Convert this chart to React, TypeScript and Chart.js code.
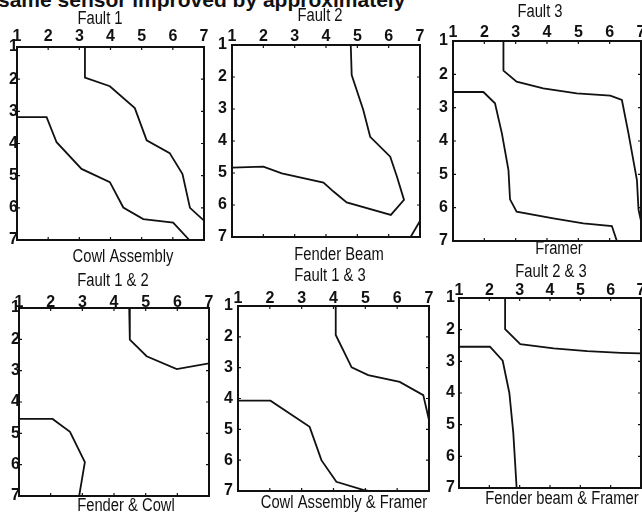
import React, { useEffect, useRef } from "react";
import { Chart, registerables } from "chart.js";
Chart.register(...registerables);

// ---------- data ----------
const axisTicks = [1, 2, 3, 4, 5, 6, 7];
const tickLabels = ["1", "2", "3", "4", "5", "6", "7"];

const headerText = "same sensor improved by approximately";

const panelTitles = ["Fault 1", "Fault 2", "Fault 3", "Fault 1 & 2", "Fault 1 & 3", "Fault 2 & 3"];
const panelLabels = ["Cowl Assembly", "Fender Beam", "Framer", "Fender & Cowl", "Cowl Assembly & Framer", "Fender beam & Framer"];

// contour lines as [x, y] pairs (x: top axis, y: left axis, downwards)
const fault1Upper = [[3.18, 1], [3.18, 1.95], [3.98, 2.22], [4.78, 2.9], [5.16, 3.9], [5.9, 4.3], [6.31, 4.95], [6.55, 6.0], [7, 6.4]];
const fault1Lower = [[1, 3.18], [1.95, 3.18], [2.27, 3.96], [3.07, 4.79], [3.98, 5.2], [4.41, 5.99], [5.05, 6.35], [6.01, 6.46], [6.53, 7]];

const fault2Main = [[4.79, 1], [4.82, 1.94], [5.19, 3.03], [5.41, 3.87], [6.05, 4.49], [6.26, 5.1], [6.49, 5.84], [6.07, 6.31], [4.66, 5.92], [4.24, 5.58], [3.92, 5.3], [2.59, 5.01], [2.0, 4.8], [1, 4.83]];
const fault2Corner = [[6.7, 7], [7, 6.5]];

const fault3Upper = [[2.61, 1], [2.61, 1.89], [3.03, 2.22], [3.88, 2.42], [4.95, 2.57], [6.02, 2.64], [6.39, 2.77], [6.6, 3.77], [6.87, 5.17], [6.92, 6.05], [7, 6.4]];
const fault3Lower = [[1, 2.53], [1.97, 2.53], [2.34, 2.87], [2.56, 3.77], [2.77, 4.87], [2.82, 5.75], [3.03, 6.12], [4.2, 6.32], [5.16, 6.47], [6.07, 6.55], [6.23, 7]];

const fault12Upper = [[4.48, 1], [4.5, 2.01], [5.03, 2.54], [5.98, 2.95], [7, 2.77]];
const fault12Lower = [[1, 4.54], [2.06, 4.54], [2.61, 4.95], [3.08, 5.92], [2.9, 7]];

const fault13Upper = [[4.07, 1], [4.07, 1.94], [4.57, 2.99], [5.09, 3.24], [6.08, 3.46], [6.82, 3.89], [7, 4.7]];
const fault13Lower = [[1, 4.07], [2.02, 4.07], [3.25, 4.92], [3.62, 6.0], [4.09, 6.7], [4.93, 6.96], [5.1, 7]];

const fault23Upper = [[2.52, 1], [2.52, 1.98], [3.02, 2.46], [4.12, 2.59], [5.23, 2.68], [6.34, 2.73], [7, 2.75]];
const fault23Lower = [[1, 2.54], [2.02, 2.54], [2.44, 2.98], [2.66, 4.0], [2.79, 5.26], [2.9, 7]];

// ---------- layout (positions only) ----------
const FONT = "'Liberation Sans', Arial, sans-serif";
const INK = "#111";
const NARROW = 0.82;

type Spec = {
  box: number[];
  title: string;
  label: string;
  titlePos: number[];
  labelPos: number[];
  xPad: number;
  yPad: number;
  lines: number[][][];
};

const specs: Spec[] = [
  { box: [17, 47, 204, 240], title: panelTitles[0], label: panelLabels[0], titlePos: [100, 19], labelPos: [123, 257], xPad: 2.5, yPad: -1, lines: [fault1Upper, fault1Lower] },
  { box: [232, 45, 420, 237], title: panelTitles[1], label: panelLabels[1], titlePos: [320, 16], labelPos: [339, 255], xPad: 0.5, yPad: 5, lines: [fault2Main, fault2Corner] },
  { box: [453, 41, 641, 241], title: panelTitles[2], label: panelLabels[2], titlePos: [540, 12], labelPos: [559, 249], xPad: 0, yPad: 5, lines: [fault3Upper, fault3Lower] },
  { box: [19, 308, 209, 496], title: panelTitles[3], label: panelLabels[3], titlePos: [113, 281], labelPos: [126, 506], xPad: -3, yPad: -1, lines: [fault12Upper, fault12Lower] },
  { box: [238, 306, 429, 491], title: panelTitles[4], label: panelLabels[4], titlePos: [330, 276], labelPos: [344, 503], xPad: -1, yPad: 5, lines: [fault13Upper, fault13Lower] },
  { box: [459, 298, 641, 488], title: panelTitles[5], label: panelLabels[5], titlePos: [551, 272], labelPos: [562, 499], xPad: -1, yPad: 4, lines: [fault23Upper, fault23Lower] },
];

const captionPlugin = {
  id: "captions",
  afterDraw(chart: any, _args: any, opts: any) {
    const ctx = chart.ctx;
    for (const it of opts.items || []) {
      ctx.save();
      ctx.fillStyle = INK;
      ctx.textAlign = "center";
      ctx.textBaseline = "middle";
      ctx.font = `18px ${FONT}`;
      ctx.translate(it.x, it.y);
      ctx.scale(NARROW, 1);
      ctx.fillText(it.text, 0, 0);
      ctx.restore();
    }
  },
};

const framePlugin = {
  id: "frame",
  afterDatasetsDraw(chart: any) {
    const { ctx, chartArea: a, scales } = chart;
    ctx.save();
    ctx.strokeStyle = INK;
    ctx.lineWidth = 2;
    ctx.strokeRect(a.left, a.top, a.right - a.left, a.bottom - a.top);
    ctx.lineWidth = 1.2;
    const tl = 3;
    ctx.beginPath();
    for (const v of axisTicks) {
      const px = scales.x.getPixelForValue(v);
      const py = scales.y.getPixelForValue(v);
      ctx.moveTo(px, a.top); ctx.lineTo(px, a.top + tl);
      ctx.moveTo(px, a.bottom); ctx.lineTo(px, a.bottom - tl);
      ctx.moveTo(a.left, py); ctx.lineTo(a.left + tl, py);
      ctx.moveTo(a.right, py); ctx.lineTo(a.right - tl, py);
    }
    ctx.stroke();
    ctx.restore();
  },
};

function Panel({ spec }: { spec: Spec }) {
  const ref = useRef<HTMLCanvasElement>(null);
  const [L, T, R, B] = spec.box;
  const YW = 24, XH = 22, PR = 10;
  const top = Math.min(spec.titlePos[1] - 14, T - XH - 2);
  const bottom = Math.max(spec.labelPos[1] + 14, B + 14);
  const left = L - YW;
  const width = R - L + YW + PR;
  const height = bottom - top;
  const padTop = T - XH - top;
  const padBottom = bottom - B;

  useEffect(() => {
    if (!ref.current) return;
    const tickFont = { family: FONT, size: 16, weight: "bold" as const, lineHeight: 1 };
    const chart = new Chart(ref.current, {
      type: "scatter",
      data: {
        datasets: spec.lines.map((ln) => ({
          data: ln.map(([x, y]) => ({ x, y })),
          showLine: true,
          borderColor: INK,
          borderWidth: 1.8,
          pointRadius: 0,
          tension: 0,
          fill: false,
        })),
      },
      options: {
        responsive: false,
        animation: false,
        devicePixelRatio: 1,
        layout: { padding: { top: padTop, bottom: padBottom, left: 0, right: PR } },
        plugins: {
          legend: { display: false },
          tooltip: { enabled: false },
          captions: {
            items: [
              { text: spec.title, x: spec.titlePos[0] - left, y: spec.titlePos[1] - top },
              { text: spec.label, x: spec.labelPos[0] - left, y: spec.labelPos[1] - top },
            ],
          },
        } as any,
        scales: {
          x: {
            type: "linear",
            position: "top",
            min: 1,
            max: 7,
            grid: { display: false, drawTicks: false },
            border: { display: false },
            afterBuildTicks: (s: any) => { s.ticks = axisTicks.map((v) => ({ value: v })); },
            afterFit: (s: any) => { s.height = XH; },
            ticks: {
              padding: spec.xPad,
              color: INK,
              font: tickFont,
              maxRotation: 0,
              autoSkip: false,
              callback: (v: any) => tickLabels[axisTicks.indexOf(Number(v))],
            },
          },
          y: {
            type: "linear",
            reverse: true,
            min: 1,
            max: 7,
            grid: { display: false, drawTicks: false },
            border: { display: false },
            afterBuildTicks: (s: any) => { s.ticks = axisTicks.map((v) => ({ value: v })); },
            afterFit: (s: any) => { s.width = YW; },
            ticks: {
              padding: spec.yPad,
              color: INK,
              font: tickFont,
              autoSkip: false,
              callback: (v: any) => tickLabels[axisTicks.indexOf(Number(v))],
            },
          },
        },
      },
      plugins: [framePlugin, captionPlugin],
    });
    return () => chart.destroy();
  }, []);

  return (
    <canvas
      ref={ref}
      width={width}
      height={height}
      style={{ position: "absolute", left, top, width, height }}
    />
  );
}

export default function App() {
  return (
    <div style={{ position: "fixed", left: 0, top: 0, width: 642, height: 515, overflow: "hidden", background: "#fff" }}>
      <div
        style={{
          position: "absolute",
          left: -2,
          top: -10,
          font: "bold 21px 'Liberation Sans', Arial, sans-serif",
          lineHeight: "20px",
          color: INK,
          whiteSpace: "nowrap",
        }}
      >
        {headerText}
      </div>
      {specs.map((s, i) => (
        <Panel key={i} spec={s} />
      ))}
    </div>
  );
}
